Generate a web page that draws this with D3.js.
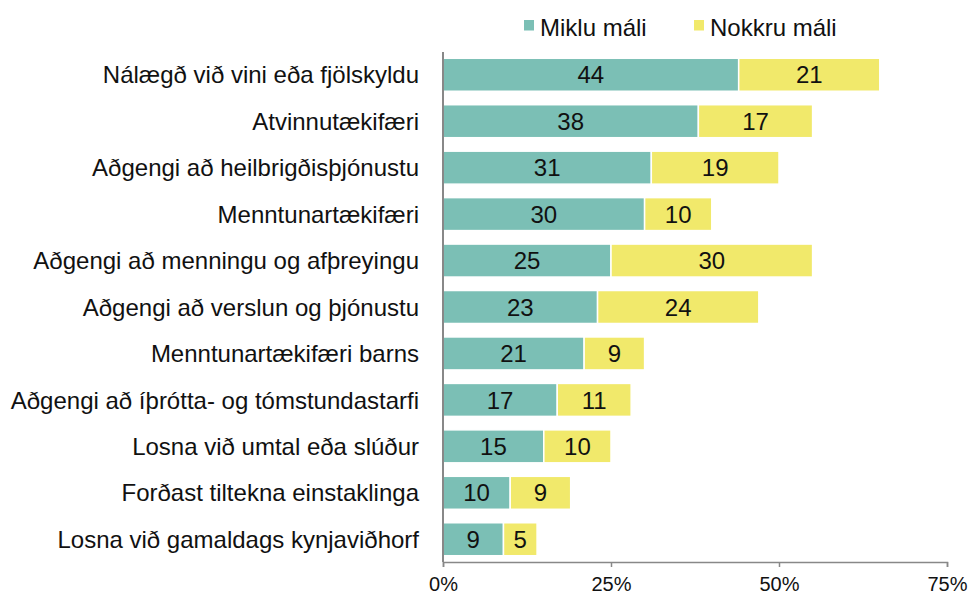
<!DOCTYPE html>
<html>
<head>
<meta charset="utf-8">
<script src="https://cdn.jsdelivr.net/npm/d3@7"></script>
<style>
  html, body { margin: 0; padding: 0; background: #fff; }
  svg { display: block; font-family: "Liberation Sans", Arial, sans-serif; }
</style>
</head>
<body>
<svg id="chart" width="971" height="596"></svg>
<script>
const categories = [
  "Nálægð við vini eða fjölskyldu",
  "Atvinnutækifæri",
  "Aðgengi að heilbrigðisþjónustu",
  "Menntunartækifæri",
  "Aðgengi að menningu og afþreyingu",
  "Aðgengi að verslun og þjónustu",
  "Menntunartækifæri barns",
  "Aðgengi að íþrótta- og tómstundastarfi",
  "Losna við umtal eða slúður",
  "Forðast tiltekna einstaklinga",
  "Losna við gamaldags kynjaviðhorf"
];
const mikluMali  = [44, 38, 31, 30, 25, 23, 21, 17, 15, 10, 9];
const nokkruMali = [21, 17, 19, 10, 30, 24, 9, 11, 10, 9, 5];
const seriesNames = ["Miklu máli", "Nokkru máli"];
const seriesColors = ["#7bbfb5", "#f1e96b"];
const xTicks = [0, 25, 50, 75];

(function () {
  const svg = d3.select("#chart");
  const plotLeft = 443, plotRight = 947, plotTop = 52, plotBottom = 562;
  const fontSize = 24;

  const x = d3.scaleLinear().domain([0, 75]).range([plotLeft, plotRight]);
  const y = d3.scaleBand().domain(categories).range([plotTop, plotBottom])
    .paddingInner(0.29).paddingOuter(0.135);

  const rows = categories.map((c, i) => ({ cat: c, vals: [mikluMali[i], nokkruMali[i]] }));
  const layers = d3.stack().keys([0, 1]).value((d, k) => d.vals[k])(rows);

  const g = svg.append("g");
  layers.forEach((layer, k) => {
    const lg = g.append("g");
    lg.selectAll("rect").data(layer).join("rect")
      .attr("x", d => x(d[0]))
      .attr("y", d => y(d.data.cat))
      .attr("width", d => x(d[1]) - x(d[0]))
      .attr("height", y.bandwidth())
      .attr("fill", seriesColors[k])
      .attr("stroke", "#fff")
      .attr("stroke-width", 1.5);
    lg.selectAll("text").data(layer).join("text")
      .attr("x", d => (x(d[0]) + x(d[1])) / 2)
      .attr("y", d => y(d.data.cat) + y.bandwidth() / 2)
      .attr("dy", "0.36em")
      .attr("text-anchor", "middle")
      .attr("font-size", fontSize)
      .attr("fill", "#111")
      .text(d => d.data.vals[k]);
  });

  // category labels
  svg.append("g").selectAll("text").data(categories).join("text")
    .attr("x", plotLeft - 24)
    .attr("y", d => y(d) + y.bandwidth() / 2)
    .attr("dy", "0.36em")
    .attr("text-anchor", "end")
    .attr("font-size", fontSize)
    .attr("fill", "#111")
    .text(d => d);

  // vertical baseline
  svg.append("line")
    .attr("x1", plotLeft).attr("x2", plotLeft)
    .attr("y1", plotTop).attr("y2", plotBottom)
    .attr("stroke", "#888").attr("stroke-width", 2);

  // bottom axis
  const xAxis = d3.axisBottom(x).tickValues(xTicks).tickFormat(d => d + "%").tickSize(5).tickPadding(10);
  const ax = svg.append("g").attr("transform", `translate(0,${plotBottom})`).call(xAxis);
  ax.select(".domain").attr("stroke", "#888").attr("stroke-width", 1.5);
  ax.selectAll(".tick line").attr("stroke", "#888").attr("stroke-width", 1.5);
  ax.selectAll(".tick text").attr("font-size", 20).attr("fill", "#111")
    .attr("font-family", "'Liberation Sans', Arial, sans-serif");

  // legend
  const legendX = [524, 694];
  const leg = svg.append("g");
  seriesNames.forEach((name, k) => {
    leg.append("rect").attr("x", legendX[k]).attr("y", 20).attr("width", 10).attr("height", 10.5)
      .attr("fill", seriesColors[k]);
    leg.append("text").attr("x", legendX[k] + 16).attr("y", 36)
      .attr("font-size", fontSize).attr("fill", "#111").text(name);
  });
})();
</script>
</body>
</html>
